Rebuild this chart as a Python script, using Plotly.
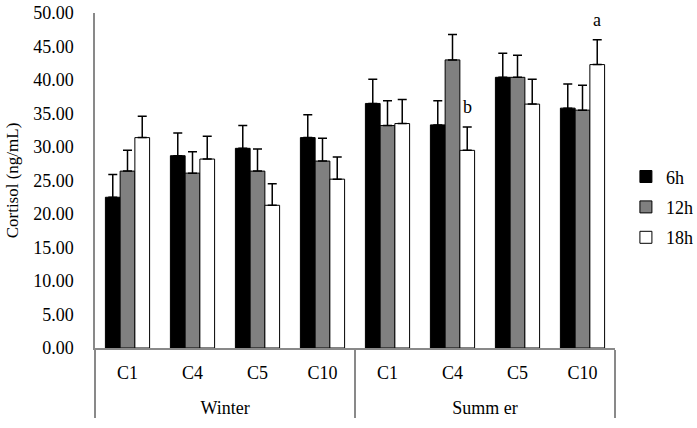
import plotly.graph_objects as go

seasons = ["Winter"] * 4 + ["Summ er"] * 4
groups = ["C1", "C4", "C5", "C10"] * 2

h6 = [22.5, 28.7, 29.8, 31.4, 36.5, 33.3, 40.4, 35.8]
h6_err = [3.4, 3.4, 3.4, 3.4, 3.6, 3.6, 3.6, 3.6]
h12 = [26.4, 26.1, 26.4, 27.9, 33.2, 43.0, 40.4, 35.5]
h12_err = [3.1, 3.2, 3.3, 3.4, 3.7, 3.8, 3.3, 3.7]
h18 = [31.4, 28.2, 21.3, 25.2, 33.5, 29.5, 36.4, 42.3]
h18_err = [3.2, 3.4, 3.2, 3.3, 3.6, 3.5, 3.7, 3.7]

y_ticks = [0, 5, 10, 15, 20, 25, 30, 35, 40, 45, 50]
sig_labels = [(5, "b"), (7, "a")]  # (category index, letter) for 18h bars

FONT = "Liberation Serif"
BARGAP = 0.32
LBL = "<span style='font-size:18px'>{}</span>"

x_outer = ["<br><br>" + LBL.format(s) for s in seasons]
x_inner = [LBL.format(g) for g in groups]

series = [
    ("6h", h6, h6_err, "#000000"),
    ("12h", h12, h12_err, "#808080"),
    ("18h", h18, h18_err, "#ffffff"),
]

fig = go.Figure()
for i, (name, vals, errs, color) in enumerate(series):
    fig.add_trace(go.Bar(
        name=name,
        x=[x_outer, x_inner],
        y=vals,
        marker=dict(color=color, line=dict(color="#000000", width=1)),
        error_y=dict(type="data", symmetric=False, array=errs,
                     arrayminus=[0] * len(errs), color="#000000",
                     thickness=1.5, width=4.5),
        legendgroup=name,
    ))

bar_w = (1 - BARGAP) / 3
for idx, letter in sig_labels:
    fig.add_annotation(
        x=idx + bar_w, y=h18[idx] + h18_err[idx], xref="x", yref="y",
        text=letter, showarrow=False, yshift=20,
        font=dict(family=FONT, size=18, color="#000000"),
    )

fig.update_layout(
    width=697, height=428,
    margin=dict(l=94.5, r=82, t=12.5, b=79.5, autoexpand=False),
    paper_bgcolor="white", plot_bgcolor="white",
    barmode="group", bargap=BARGAP, bargroupgap=0,
    font=dict(family=FONT, size=18, color="#000000"),
    showlegend=True,
    legend=dict(x=1.021, y=0.42, xanchor="left", yanchor="middle",
                font=dict(family=FONT, size=18, color="#000000"),
                traceorder="grouped", tracegroupgap=4,
                bgcolor="rgba(0,0,0,0)"),
    xaxis=dict(
        type="multicategory", showline=True, linecolor="#898989", linewidth=1.5,
        showdividers=True, dividercolor="#898989", dividerwidth=1.5,
        ticks="", tickfont=dict(family=FONT, size=11, color="#000000"),
        ticklabelstandoff=16,
        showgrid=False, automargin=False,
    ),
    yaxis=dict(
        range=[0, 50], tickvals=y_ticks, tickformat=".2f",
        showline=True, linecolor="#898989", linewidth=1.5,
        ticks="", showgrid=False, zeroline=False, automargin=False,
        ticklabelstandoff=16,
        tickfont=dict(family=FONT, size=18, color="#000000"),
        title=dict(text="\u00a0\u00a0\u00a0\u00a0Cortisol (ng/mL)", standoff=10,
                   font=dict(family=FONT, size=17, color="#000000")),
    ),
)

fig.write_html("out.html", config={"displayModeBar": False},
               post_script="document.body.style.margin='0';")
